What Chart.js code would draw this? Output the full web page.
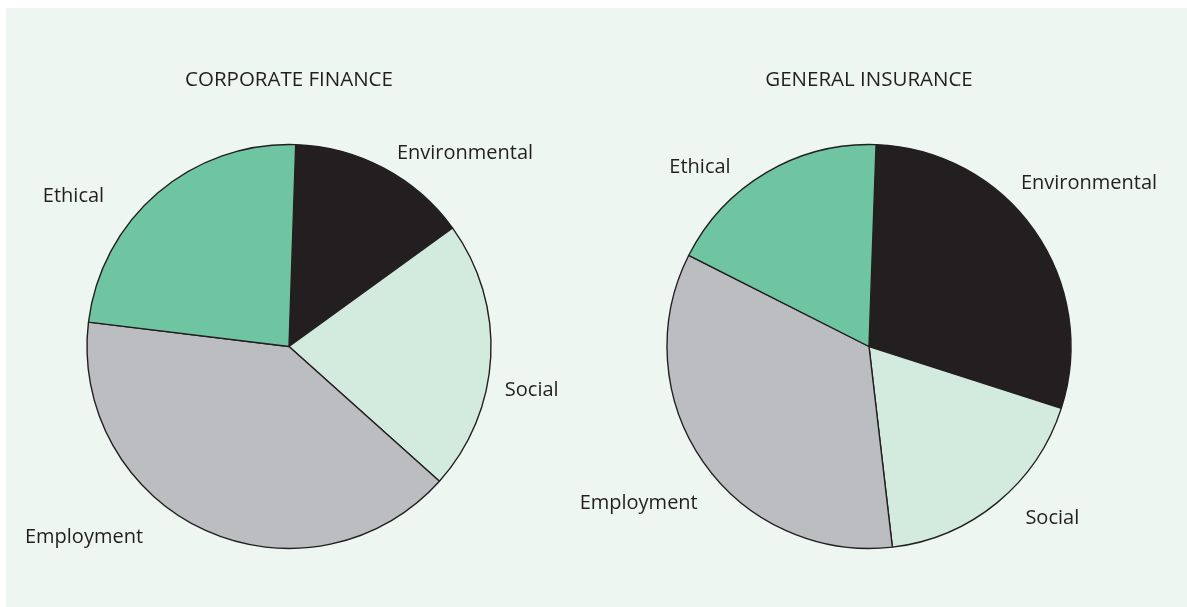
<!DOCTYPE html>
<html>
<head>
<meta charset="utf-8">
<script src="https://cdn.jsdelivr.net/npm/chart.js@4/dist/chart.umd.min.js"></script>
<style>
  body { margin: 0; background: #ffffff; width: 1187px; height: 607px; overflow: hidden; position: relative; }
  #panel { position: absolute; left: 6px; top: 8px; width: 1181px; height: 599px; background: #edf6f1; }
  .pie { position: absolute; top: 8px; }
  #leftPie { left: 0px; }
  #rightPie { left: 580px; }
</style>
</head>
<body>
<div id="panel"></div>
<canvas id="leftPie" class="pie" width="578" height="599"></canvas>
<canvas id="rightPie" class="pie" width="578" height="599"></canvas>
<script>
// slice order runs clockwise from twelve o'clock
var categories = ['Environmental', 'Social', 'Employment', 'Ethical'];
var corporateFinance = [14.5, 21.6, 40.3, 23.6];
var generalInsurance = [29.4, 18.2, 34.3, 18.1];
var sliceColors = ['#231f20', '#d3ebdf', '#bcbdc1', '#6fc5a1'];

// label spots: offset of text centre / baseline from the pie centre
var leftLabelPos = [[176, -187.5], [242.7, 49.5], [-205, 196.8], [-215.5, -144.5]];
var rightLabelPos = [[220, -157.5], [183.3, 177.5], [-230.3, 162.8], [-169, -173.2]];

var labelFont = '20px "Open Sans"';
var headingFont = '20.5px "Open Sans"';
var textColor = '#231f20';

// draws the heading and the slice names around the pie
var pieText = {
  id: 'pieText',
  afterDraw: function(chart, args, opts) {
    var arc = chart.getDatasetMeta(0).data[0];
    var cx = arc.x, cy = arc.y;
    var ctx = chart.ctx;
    ctx.save();
    ctx.fillStyle = textColor;
    ctx.textAlign = 'center';
    ctx.textBaseline = 'alphabetic';
    ctx.font = headingFont;
    ctx.fillText(opts.heading, cx, cy - 260.8);
    ctx.font = labelFont;
    chart.data.labels.forEach(function(lbl, i) {
      var p = opts.positions[i];
      ctx.fillText(lbl, cx + p[0], cy + p[1]);
    });
    ctx.restore();
  }
};

function makePie(id, heading, values, rotation, positions) {
  return new Chart(document.getElementById(id), {
    type: 'pie',
    data: {
      labels: categories,
      datasets: [{
        data: values,
        backgroundColor: sliceColors,
        borderColor: '#231f20',
        borderWidth: 1.4
      }]
    },
    options: {
      responsive: false,
      animation: false,
      devicePixelRatio: 1,
      rotation: rotation,
      radius: 202,
      layout: { padding: { top: 78, bottom: 0, left: 0, right: 0 } },
      plugins: {
        legend: { display: false },
        tooltip: { enabled: false },
        pieText: { heading: heading, positions: positions }
      }
    },
    plugins: [pieText]
  });
}

Promise.all([document.fonts.load(labelFont), document.fonts.load(headingFont)]).then(function() {
  makePie('leftPie', 'CORPORATE FINANCE', corporateFinance, 1.9, leftLabelPos);
  makePie('rightPie', 'GENERAL INSURANCE', generalInsurance, 2.0, rightLabelPos);
});
</script>
</body>
</html>
